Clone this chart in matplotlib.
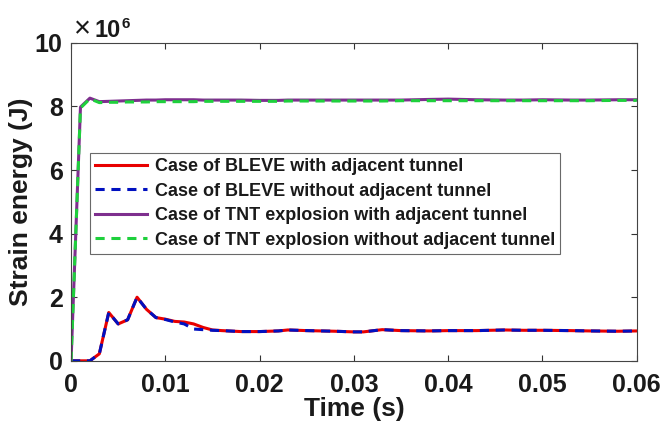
import matplotlib
matplotlib.use("Agg")
import matplotlib.pyplot as plt

plt.rcParams['font.family'] = ['Liberation Sans', 'DejaVu Sans']
plt.rcParams['font.weight'] = 'bold'

# time samples (s)
t = [0, .001, .002, .003, .004, .005, .006, .007, .008, .009, .010, .011, .012,
     .013, .014, .015, .016, .018, .020, .022, .023, .025, .028, .030, .031,
     .033, .035, .038, .040, .043, .046, .048, .050, .053, .055, .058, .060]

# strain energy, in units of 1e6 J
bleve_with = [0, 0, 0, 0.22, 1.52, 1.16, 1.29, 2.0, 1.62, 1.36, 1.31, 1.24, 1.22,
              1.16, 1.05, 0.97, 0.95, 0.92, 0.92, 0.94, 0.97, 0.95, 0.93, 0.91, 0.91,
              0.98, 0.95, 0.94, 0.95, 0.95, 0.97, 0.96, 0.96, 0.95, 0.94, 0.93, 0.94]
bleve_without = [0, 0, 0, 0.22, 1.52, 1.16, 1.29, 2.0, 1.62, 1.36, 1.30, 1.22, 1.16,
                 1.0, 0.98, 0.96, 0.95, 0.92, 0.92, 0.94, 0.97, 0.95, 0.93, 0.91, 0.91,
                 0.98, 0.95, 0.94, 0.95, 0.95, 0.97, 0.96, 0.96, 0.95, 0.94, 0.93, 0.94]
tnt_with = [0, 7.98, 8.26, 8.15, 8.16, 8.17, 8.18, 8.19, 8.2, 8.2, 8.21, 8.21, 8.21,
            8.21, 8.2, 8.2, 8.2, 8.2, 8.19, 8.19, 8.2, 8.2, 8.2, 8.2, 8.2,
            8.2, 8.2, 8.22, 8.23, 8.21, 8.2, 8.2, 8.21, 8.2, 8.2, 8.21, 8.21]
tnt_without = [0, 7.95, 8.24, 8.12, 8.13, 8.13, 8.14, 8.14, 8.14, 8.15, 8.15, 8.15, 8.15,
               8.15, 8.16, 8.16, 8.16, 8.16, 8.16, 8.16, 8.17, 8.17, 8.17, 8.17, 8.17,
               8.17, 8.18, 8.18, 8.18, 8.18, 8.18, 8.18, 8.18, 8.18, 8.18, 8.19, 8.19]

labels = ["Case of BLEVE with adjacent tunnel",
          "Case of BLEVE without adjacent tunnel",
          "Case of TNT explosion with adjacent tunnel",
          "Case of TNT explosion without adjacent tunnel"]

fig = plt.figure(figsize=(6.64, 4.24), dpi=100)
ax = fig.add_axes([0.107, 0.149, 0.852, 0.75])

ax.plot(t, bleve_with, color='#e80000', lw=2.2, label=labels[0])
ax.plot(t, bleve_without, color='#0010c0', lw=2.2, ls=(0, (3, 2.2)), label=labels[1])
ax.plot(t, tnt_with, color='#7e2f8e', lw=2.2, label=labels[2])
ax.plot(t, tnt_without, color='#1ed03c', lw=2.2, ls=(0, (3, 2.2)), label=labels[3])

ax.set_xlim(0, 0.06)
ax.set_ylim(0, 10)
ax.set_xticks([0, 0.01, 0.02, 0.03, 0.04, 0.05, 0.06])
ax.set_xticklabels(['0', '0.01', '0.02', '0.03', '0.04', '0.05', '0.06'])
ax.set_yticks([0, 2, 4, 6, 8, 10])
ax.tick_params(direction='in', top=True, right=True, length=4, width=0.8,
               labelsize=18, colors='#333333', labelcolor='#1a1a1a')
ax.tick_params(axis='x', pad=9)
ax.tick_params(axis='y', pad=6)
for s in ax.spines.values():
    s.set_color('#444444')
    s.set_linewidth(0.8)

ax.set_xlabel('Time (s)', fontsize=19, fontweight='bold', labelpad=0, color='#1a1a1a')
ax.set_ylabel('Strain energy (J)', fontsize=19, fontweight='bold', labelpad=1, color='#1a1a1a')

# exponent label above the y axis
ax.text(0.006, 1.019, '×', transform=ax.transAxes, fontsize=21, fontweight='normal',
        ha='left', va='baseline', color='#1a1a1a')
ax.text(0.042, 1.019, '10', transform=ax.transAxes, fontsize=17, fontweight='bold',
        ha='left', va='baseline', color='#1a1a1a')
ax.text(0.089, 1.047, '6', transform=ax.transAxes, fontsize=11, fontweight='bold',
        ha='left', va='baseline', color='#1a1a1a')

leg = ax.legend(loc='upper left', bbox_to_anchor=(0.033, 0.655), fontsize=13,
                frameon=True, fancybox=False, handlelength=2.85, handletextpad=0.45,
                borderpad=0.3, labelspacing=0.42, borderaxespad=0)
leg.get_frame().set_edgecolor('#444444')
leg.get_frame().set_linewidth(0.8)
for txt in leg.get_texts():
    txt.set_fontweight('bold')
    txt.set_color('#1a1a1a')

fig.savefig('out.png', dpi=100)
